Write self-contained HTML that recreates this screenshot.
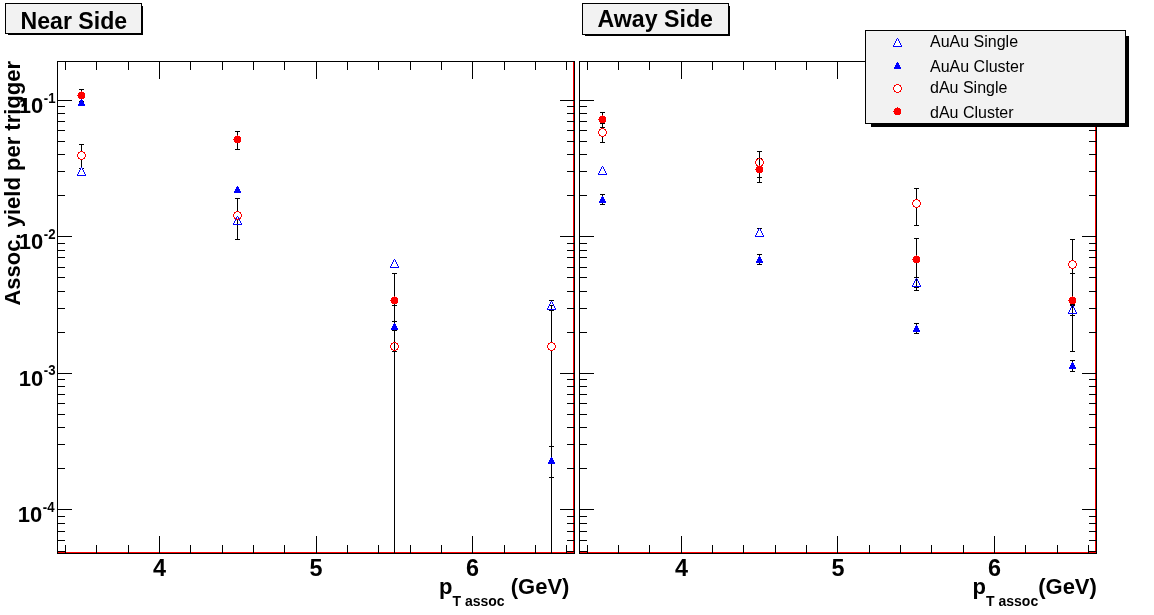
<!DOCTYPE html>
<html lang="en"><head><meta charset="utf-8"><title>Associated yield per trigger</title>
<style>html,body{margin:0;padding:0;background:#fff;}svg{display:block;}</style></head>
<body>
<svg width="1154" height="615" viewBox="0 0 1154 615" shape-rendering="crispEdges">
<rect x="0" y="0" width="1154" height="615" fill="#fff"/>
<rect x="57" y="61" width="518" height="1" fill="#000"/>
<rect x="57" y="553" width="518" height="1" fill="#000"/>
<rect x="57" y="61" width="1" height="493" fill="#000"/>
<rect x="574" y="61" width="1" height="493" fill="#000"/>
<rect x="58" y="552" width="516" height="1" fill="#ff0000"/>
<rect x="573" y="62" width="1" height="491" fill="#ff0000"/>
<rect x="65" y="545" width="1" height="9" fill="#000"/>
<rect x="65" y="61" width="1" height="9" fill="#000"/>
<rect x="96" y="545" width="1" height="9" fill="#000"/>
<rect x="96" y="61" width="1" height="9" fill="#000"/>
<rect x="128" y="545" width="1" height="9" fill="#000"/>
<rect x="128" y="61" width="1" height="9" fill="#000"/>
<rect x="159" y="536" width="1" height="18" fill="#000"/>
<rect x="159" y="61" width="1" height="18" fill="#000"/>
<rect x="190" y="545" width="1" height="9" fill="#000"/>
<rect x="190" y="61" width="1" height="9" fill="#000"/>
<rect x="222" y="545" width="1" height="9" fill="#000"/>
<rect x="222" y="61" width="1" height="9" fill="#000"/>
<rect x="253" y="545" width="1" height="9" fill="#000"/>
<rect x="253" y="61" width="1" height="9" fill="#000"/>
<rect x="284" y="545" width="1" height="9" fill="#000"/>
<rect x="284" y="61" width="1" height="9" fill="#000"/>
<rect x="316" y="536" width="1" height="18" fill="#000"/>
<rect x="316" y="61" width="1" height="18" fill="#000"/>
<rect x="347" y="545" width="1" height="9" fill="#000"/>
<rect x="347" y="61" width="1" height="9" fill="#000"/>
<rect x="378" y="545" width="1" height="9" fill="#000"/>
<rect x="378" y="61" width="1" height="9" fill="#000"/>
<rect x="410" y="545" width="1" height="9" fill="#000"/>
<rect x="410" y="61" width="1" height="9" fill="#000"/>
<rect x="441" y="545" width="1" height="9" fill="#000"/>
<rect x="441" y="61" width="1" height="9" fill="#000"/>
<rect x="472" y="536" width="1" height="18" fill="#000"/>
<rect x="472" y="61" width="1" height="18" fill="#000"/>
<rect x="504" y="545" width="1" height="9" fill="#000"/>
<rect x="504" y="61" width="1" height="9" fill="#000"/>
<rect x="535" y="545" width="1" height="9" fill="#000"/>
<rect x="535" y="61" width="1" height="9" fill="#000"/>
<rect x="566" y="545" width="1" height="9" fill="#000"/>
<rect x="566" y="61" width="1" height="9" fill="#000"/>
<rect x="58" y="551" width="7" height="1" fill="#000"/>
<rect x="567" y="551" width="7" height="1" fill="#000"/>
<rect x="58" y="540" width="7" height="1" fill="#000"/>
<rect x="567" y="540" width="7" height="1" fill="#000"/>
<rect x="58" y="531" width="7" height="1" fill="#000"/>
<rect x="567" y="531" width="7" height="1" fill="#000"/>
<rect x="58" y="523" width="7" height="1" fill="#000"/>
<rect x="567" y="523" width="7" height="1" fill="#000"/>
<rect x="58" y="516" width="7" height="1" fill="#000"/>
<rect x="567" y="516" width="7" height="1" fill="#000"/>
<rect x="58" y="509" width="14" height="1" fill="#000"/>
<rect x="560" y="509" width="14" height="1" fill="#000"/>
<rect x="58" y="468" width="7" height="1" fill="#000"/>
<rect x="567" y="468" width="7" height="1" fill="#000"/>
<rect x="58" y="444" width="7" height="1" fill="#000"/>
<rect x="567" y="444" width="7" height="1" fill="#000"/>
<rect x="58" y="427" width="7" height="1" fill="#000"/>
<rect x="567" y="427" width="7" height="1" fill="#000"/>
<rect x="58" y="414" width="7" height="1" fill="#000"/>
<rect x="567" y="414" width="7" height="1" fill="#000"/>
<rect x="58" y="403" width="7" height="1" fill="#000"/>
<rect x="567" y="403" width="7" height="1" fill="#000"/>
<rect x="58" y="394" width="7" height="1" fill="#000"/>
<rect x="567" y="394" width="7" height="1" fill="#000"/>
<rect x="58" y="386" width="7" height="1" fill="#000"/>
<rect x="567" y="386" width="7" height="1" fill="#000"/>
<rect x="58" y="379" width="7" height="1" fill="#000"/>
<rect x="567" y="379" width="7" height="1" fill="#000"/>
<rect x="58" y="373" width="14" height="1" fill="#000"/>
<rect x="560" y="373" width="14" height="1" fill="#000"/>
<rect x="58" y="332" width="7" height="1" fill="#000"/>
<rect x="567" y="332" width="7" height="1" fill="#000"/>
<rect x="58" y="308" width="7" height="1" fill="#000"/>
<rect x="567" y="308" width="7" height="1" fill="#000"/>
<rect x="58" y="291" width="7" height="1" fill="#000"/>
<rect x="567" y="291" width="7" height="1" fill="#000"/>
<rect x="58" y="277" width="7" height="1" fill="#000"/>
<rect x="567" y="277" width="7" height="1" fill="#000"/>
<rect x="58" y="267" width="7" height="1" fill="#000"/>
<rect x="567" y="267" width="7" height="1" fill="#000"/>
<rect x="58" y="257" width="7" height="1" fill="#000"/>
<rect x="567" y="257" width="7" height="1" fill="#000"/>
<rect x="58" y="250" width="7" height="1" fill="#000"/>
<rect x="567" y="250" width="7" height="1" fill="#000"/>
<rect x="58" y="243" width="7" height="1" fill="#000"/>
<rect x="567" y="243" width="7" height="1" fill="#000"/>
<rect x="58" y="236" width="14" height="1" fill="#000"/>
<rect x="560" y="236" width="14" height="1" fill="#000"/>
<rect x="58" y="195" width="7" height="1" fill="#000"/>
<rect x="567" y="195" width="7" height="1" fill="#000"/>
<rect x="58" y="171" width="7" height="1" fill="#000"/>
<rect x="567" y="171" width="7" height="1" fill="#000"/>
<rect x="58" y="154" width="7" height="1" fill="#000"/>
<rect x="567" y="154" width="7" height="1" fill="#000"/>
<rect x="58" y="141" width="7" height="1" fill="#000"/>
<rect x="567" y="141" width="7" height="1" fill="#000"/>
<rect x="58" y="130" width="7" height="1" fill="#000"/>
<rect x="567" y="130" width="7" height="1" fill="#000"/>
<rect x="58" y="121" width="7" height="1" fill="#000"/>
<rect x="567" y="121" width="7" height="1" fill="#000"/>
<rect x="58" y="113" width="7" height="1" fill="#000"/>
<rect x="567" y="113" width="7" height="1" fill="#000"/>
<rect x="58" y="106" width="7" height="1" fill="#000"/>
<rect x="567" y="106" width="7" height="1" fill="#000"/>
<rect x="58" y="100" width="14" height="1" fill="#000"/>
<rect x="560" y="100" width="14" height="1" fill="#000"/>
<rect x="579" y="61" width="518" height="1" fill="#000"/>
<rect x="579" y="553" width="518" height="1" fill="#000"/>
<rect x="579" y="61" width="1" height="493" fill="#000"/>
<rect x="1096" y="61" width="1" height="493" fill="#000"/>
<rect x="580" y="552" width="516" height="1" fill="#ff0000"/>
<rect x="1095" y="62" width="1" height="491" fill="#ff0000"/>
<rect x="587" y="545" width="1" height="9" fill="#000"/>
<rect x="587" y="61" width="1" height="9" fill="#000"/>
<rect x="618" y="545" width="1" height="9" fill="#000"/>
<rect x="618" y="61" width="1" height="9" fill="#000"/>
<rect x="649" y="545" width="1" height="9" fill="#000"/>
<rect x="649" y="61" width="1" height="9" fill="#000"/>
<rect x="681" y="536" width="1" height="18" fill="#000"/>
<rect x="681" y="61" width="1" height="18" fill="#000"/>
<rect x="712" y="545" width="1" height="9" fill="#000"/>
<rect x="712" y="61" width="1" height="9" fill="#000"/>
<rect x="743" y="545" width="1" height="9" fill="#000"/>
<rect x="743" y="61" width="1" height="9" fill="#000"/>
<rect x="775" y="545" width="1" height="9" fill="#000"/>
<rect x="775" y="61" width="1" height="9" fill="#000"/>
<rect x="806" y="545" width="1" height="9" fill="#000"/>
<rect x="806" y="61" width="1" height="9" fill="#000"/>
<rect x="837" y="536" width="1" height="18" fill="#000"/>
<rect x="837" y="61" width="1" height="18" fill="#000"/>
<rect x="869" y="545" width="1" height="9" fill="#000"/>
<rect x="869" y="61" width="1" height="9" fill="#000"/>
<rect x="900" y="545" width="1" height="9" fill="#000"/>
<rect x="900" y="61" width="1" height="9" fill="#000"/>
<rect x="931" y="545" width="1" height="9" fill="#000"/>
<rect x="931" y="61" width="1" height="9" fill="#000"/>
<rect x="963" y="545" width="1" height="9" fill="#000"/>
<rect x="963" y="61" width="1" height="9" fill="#000"/>
<rect x="994" y="536" width="1" height="18" fill="#000"/>
<rect x="994" y="61" width="1" height="18" fill="#000"/>
<rect x="1025" y="545" width="1" height="9" fill="#000"/>
<rect x="1025" y="61" width="1" height="9" fill="#000"/>
<rect x="1057" y="545" width="1" height="9" fill="#000"/>
<rect x="1057" y="61" width="1" height="9" fill="#000"/>
<rect x="1088" y="545" width="1" height="9" fill="#000"/>
<rect x="1088" y="61" width="1" height="9" fill="#000"/>
<rect x="580" y="551" width="7" height="1" fill="#000"/>
<rect x="1089" y="551" width="7" height="1" fill="#000"/>
<rect x="580" y="540" width="7" height="1" fill="#000"/>
<rect x="1089" y="540" width="7" height="1" fill="#000"/>
<rect x="580" y="531" width="7" height="1" fill="#000"/>
<rect x="1089" y="531" width="7" height="1" fill="#000"/>
<rect x="580" y="523" width="7" height="1" fill="#000"/>
<rect x="1089" y="523" width="7" height="1" fill="#000"/>
<rect x="580" y="516" width="7" height="1" fill="#000"/>
<rect x="1089" y="516" width="7" height="1" fill="#000"/>
<rect x="580" y="509" width="14" height="1" fill="#000"/>
<rect x="1082" y="509" width="14" height="1" fill="#000"/>
<rect x="580" y="468" width="7" height="1" fill="#000"/>
<rect x="1089" y="468" width="7" height="1" fill="#000"/>
<rect x="580" y="444" width="7" height="1" fill="#000"/>
<rect x="1089" y="444" width="7" height="1" fill="#000"/>
<rect x="580" y="427" width="7" height="1" fill="#000"/>
<rect x="1089" y="427" width="7" height="1" fill="#000"/>
<rect x="580" y="414" width="7" height="1" fill="#000"/>
<rect x="1089" y="414" width="7" height="1" fill="#000"/>
<rect x="580" y="403" width="7" height="1" fill="#000"/>
<rect x="1089" y="403" width="7" height="1" fill="#000"/>
<rect x="580" y="394" width="7" height="1" fill="#000"/>
<rect x="1089" y="394" width="7" height="1" fill="#000"/>
<rect x="580" y="386" width="7" height="1" fill="#000"/>
<rect x="1089" y="386" width="7" height="1" fill="#000"/>
<rect x="580" y="379" width="7" height="1" fill="#000"/>
<rect x="1089" y="379" width="7" height="1" fill="#000"/>
<rect x="580" y="373" width="14" height="1" fill="#000"/>
<rect x="1082" y="373" width="14" height="1" fill="#000"/>
<rect x="580" y="332" width="7" height="1" fill="#000"/>
<rect x="1089" y="332" width="7" height="1" fill="#000"/>
<rect x="580" y="308" width="7" height="1" fill="#000"/>
<rect x="1089" y="308" width="7" height="1" fill="#000"/>
<rect x="580" y="291" width="7" height="1" fill="#000"/>
<rect x="1089" y="291" width="7" height="1" fill="#000"/>
<rect x="580" y="277" width="7" height="1" fill="#000"/>
<rect x="1089" y="277" width="7" height="1" fill="#000"/>
<rect x="580" y="267" width="7" height="1" fill="#000"/>
<rect x="1089" y="267" width="7" height="1" fill="#000"/>
<rect x="580" y="257" width="7" height="1" fill="#000"/>
<rect x="1089" y="257" width="7" height="1" fill="#000"/>
<rect x="580" y="250" width="7" height="1" fill="#000"/>
<rect x="1089" y="250" width="7" height="1" fill="#000"/>
<rect x="580" y="243" width="7" height="1" fill="#000"/>
<rect x="1089" y="243" width="7" height="1" fill="#000"/>
<rect x="580" y="236" width="14" height="1" fill="#000"/>
<rect x="1082" y="236" width="14" height="1" fill="#000"/>
<rect x="580" y="195" width="7" height="1" fill="#000"/>
<rect x="1089" y="195" width="7" height="1" fill="#000"/>
<rect x="580" y="171" width="7" height="1" fill="#000"/>
<rect x="1089" y="171" width="7" height="1" fill="#000"/>
<rect x="580" y="154" width="7" height="1" fill="#000"/>
<rect x="1089" y="154" width="7" height="1" fill="#000"/>
<rect x="580" y="141" width="7" height="1" fill="#000"/>
<rect x="1089" y="141" width="7" height="1" fill="#000"/>
<rect x="580" y="130" width="7" height="1" fill="#000"/>
<rect x="1089" y="130" width="7" height="1" fill="#000"/>
<rect x="580" y="121" width="7" height="1" fill="#000"/>
<rect x="1089" y="121" width="7" height="1" fill="#000"/>
<rect x="580" y="113" width="7" height="1" fill="#000"/>
<rect x="1089" y="113" width="7" height="1" fill="#000"/>
<rect x="580" y="106" width="7" height="1" fill="#000"/>
<rect x="1089" y="106" width="7" height="1" fill="#000"/>
<rect x="580" y="100" width="14" height="1" fill="#000"/>
<rect x="1082" y="100" width="14" height="1" fill="#000"/>
<rect x="79" y="89" width="5" height="1" fill="#000"/>
<rect x="79" y="101" width="5" height="1" fill="#000"/>
<rect x="81" y="89" width="1" height="13" fill="#000"/>
<path d="M81 99h1v1h-1zM80 100h3v1h-3zM80 101h3v1h-3zM79 102h5v1h-5zM79 103h5v1h-5zM78 104h7v1h-7zM78 105h7v1h-7z" fill="#0000ff"/>
<path d="M79 92h5v1h-5zM78 93h7v1h-7zM78 94h7v1h-7zM78 95h7v1h-7zM78 96h7v1h-7zM78 97h7v1h-7zM79 98h5v1h-5zM77 95h1v1h-1zM81 91h1v1h-1z" fill="#ff0000"/>
<rect x="79" y="144" width="5" height="1" fill="#000"/>
<rect x="79" y="168" width="5" height="1" fill="#000"/>
<rect x="81" y="144" width="1" height="8" fill="#000"/>
<rect x="81" y="160" width="1" height="9" fill="#000"/>
<path d="M80 151h3v1h-3zM80 159h3v1h-3zM78 152h2v1h-2zM83 152h2v1h-2zM78 153h1v1h-1zM84 153h1v1h-1zM78 158h2v1h-2zM83 158h2v1h-2zM78 157h1v1h-1zM84 157h1v1h-1zM77 154h1v1h-1zM85 154h1v1h-1zM77 155h1v1h-1zM85 155h1v1h-1zM77 156h1v1h-1zM85 156h1v1h-1z" fill="#ff0000"/>
<path d="M81 168h1v1h-1zM81 169h1v1h-1zM80 170h3v1h-3zM80 171h3v1h-3zM79 172h5v1h-5zM79 173h5v1h-5zM78 174h7v1h-7z" fill="#fff"/>
<path d="M81 167h1v1h-1zM80 168h1v1h-1zM82 168h1v1h-1zM80 169h1v1h-1zM82 169h1v1h-1zM79 170h1v1h-1zM83 170h1v1h-1zM79 171h1v1h-1zM83 171h1v1h-1zM78 172h1v1h-1zM84 172h1v1h-1zM78 173h1v1h-1zM84 173h1v1h-1zM77 174h1v1h-1zM85 174h1v1h-1zM77 175h9v1h-9z" fill="#0000ff"/>
<rect x="235" y="131" width="5" height="1" fill="#000"/>
<rect x="235" y="149" width="5" height="1" fill="#000"/>
<rect x="237" y="131" width="1" height="19" fill="#000"/>
<path d="M235 136h5v1h-5zM234 137h7v1h-7zM234 138h7v1h-7zM234 139h7v1h-7zM234 140h7v1h-7zM234 141h7v1h-7zM235 142h5v1h-5zM233 139h1v1h-1zM237 135h1v1h-1z" fill="#ff0000"/>
<path d="M237 186h1v1h-1zM236 187h3v1h-3zM236 188h3v1h-3zM235 189h5v1h-5zM235 190h5v1h-5zM234 191h7v1h-7zM234 192h7v1h-7z" fill="#0000ff"/>
<rect x="235" y="198" width="5" height="1" fill="#000"/>
<rect x="235" y="239" width="5" height="1" fill="#000"/>
<rect x="237" y="198" width="1" height="14" fill="#000"/>
<rect x="237" y="220" width="1" height="20" fill="#000"/>
<path d="M237 216h1v1h-1zM236 217h1v1h-1zM238 217h1v1h-1zM236 218h1v1h-1zM238 218h1v1h-1zM235 219h1v1h-1zM239 219h1v1h-1zM235 220h1v1h-1zM239 220h1v1h-1zM234 221h1v1h-1zM240 221h1v1h-1zM234 222h1v1h-1zM240 222h1v1h-1zM233 223h1v1h-1zM241 223h1v1h-1zM233 224h9v1h-9z" fill="#0000ff"/>
<path d="M236 211h3v1h-3zM236 219h3v1h-3zM234 212h2v1h-2zM239 212h2v1h-2zM234 213h1v1h-1zM240 213h1v1h-1zM234 218h2v1h-2zM239 218h2v1h-2zM234 217h1v1h-1zM240 217h1v1h-1zM233 214h1v1h-1zM241 214h1v1h-1zM233 215h1v1h-1zM241 215h1v1h-1zM233 216h1v1h-1zM241 216h1v1h-1z" fill="#ff0000"/>
<path d="M394 259h1v1h-1zM393 260h1v1h-1zM395 260h1v1h-1zM393 261h1v1h-1zM395 261h1v1h-1zM392 262h1v1h-1zM396 262h1v1h-1zM392 263h1v1h-1zM396 263h1v1h-1zM391 264h1v1h-1zM397 264h1v1h-1zM391 265h1v1h-1zM397 265h1v1h-1zM390 266h1v1h-1zM398 266h1v1h-1zM390 267h9v1h-9z" fill="#0000ff"/>
<rect x="394" y="273" width="1" height="280" fill="#000"/>
<rect x="392" y="273" width="5" height="1" fill="#000"/>
<rect x="392" y="305" width="5" height="1" fill="#000"/>
<rect x="392" y="321" width="5" height="1" fill="#000"/>
<rect x="392" y="330" width="5" height="1" fill="#000"/>
<rect x="392" y="351" width="5" height="1" fill="#000"/>
<path d="M392 297h5v1h-5zM391 298h7v1h-7zM391 299h7v1h-7zM391 300h7v1h-7zM391 301h7v1h-7zM391 302h7v1h-7zM392 303h5v1h-5zM390 300h1v1h-1zM394 296h1v1h-1z" fill="#ff0000"/>
<path d="M394 323h1v1h-1zM393 324h3v1h-3zM393 325h3v1h-3zM392 326h5v1h-5zM392 327h5v1h-5zM391 328h7v1h-7zM391 329h7v1h-7z" fill="#0000ff"/>
<path d="M393 342h3v1h-3zM393 350h3v1h-3zM391 343h2v1h-2zM396 343h2v1h-2zM391 344h1v1h-1zM397 344h1v1h-1zM391 349h2v1h-2zM396 349h2v1h-2zM391 348h1v1h-1zM397 348h1v1h-1zM390 345h1v1h-1zM398 345h1v1h-1zM390 346h1v1h-1zM398 346h1v1h-1zM390 347h1v1h-1zM398 347h1v1h-1z" fill="#ff0000"/>
<rect x="549" y="300" width="5" height="1" fill="#000"/>
<rect x="549" y="305" width="5" height="1" fill="#000"/>
<rect x="549" y="310" width="5" height="1" fill="#000"/>
<rect x="551" y="305" width="1" height="38" fill="#000"/>
<path d="M551 301h1v1h-1zM550 302h1v1h-1zM552 302h1v1h-1zM550 303h1v1h-1zM552 303h1v1h-1zM549 304h1v1h-1zM553 304h1v1h-1zM549 305h1v1h-1zM553 305h1v1h-1zM548 306h1v1h-1zM554 306h1v1h-1zM548 307h1v1h-1zM554 307h1v1h-1zM547 308h1v1h-1zM555 308h1v1h-1zM547 309h9v1h-9z" fill="#0000ff"/>
<path d="M550 342h3v1h-3zM550 350h3v1h-3zM548 343h2v1h-2zM553 343h2v1h-2zM548 344h1v1h-1zM554 344h1v1h-1zM548 349h2v1h-2zM553 349h2v1h-2zM548 348h1v1h-1zM554 348h1v1h-1zM547 345h1v1h-1zM555 345h1v1h-1zM547 346h1v1h-1zM555 346h1v1h-1zM547 347h1v1h-1zM555 347h1v1h-1z" fill="#ff0000"/>
<rect x="551" y="351" width="1" height="202" fill="#000"/>
<rect x="549" y="446" width="5" height="1" fill="#000"/>
<rect x="549" y="477" width="5" height="1" fill="#000"/>
<path d="M551 457h1v1h-1zM550 458h3v1h-3zM550 459h3v1h-3zM549 460h5v1h-5zM549 461h5v1h-5zM548 462h7v1h-7zM548 463h7v1h-7z" fill="#0000ff"/>
<rect x="600" y="112" width="5" height="1" fill="#000"/>
<rect x="600" y="123" width="5" height="1" fill="#000"/>
<rect x="600" y="127" width="5" height="1" fill="#000"/>
<rect x="600" y="142" width="5" height="1" fill="#000"/>
<rect x="602" y="112" width="1" height="5" fill="#000"/>
<rect x="602" y="123" width="1" height="6" fill="#000"/>
<rect x="602" y="137" width="1" height="6" fill="#000"/>
<path d="M600 116h5v1h-5zM599 117h7v1h-7zM599 118h7v1h-7zM599 119h7v1h-7zM599 120h7v1h-7zM599 121h7v1h-7zM600 122h5v1h-5zM598 119h1v1h-1zM602 115h1v1h-1z" fill="#ff0000"/>
<path d="M601 128h3v1h-3zM601 136h3v1h-3zM599 129h2v1h-2zM604 129h2v1h-2zM599 130h1v1h-1zM605 130h1v1h-1zM599 135h2v1h-2zM604 135h2v1h-2zM599 134h1v1h-1zM605 134h1v1h-1zM598 131h1v1h-1zM606 131h1v1h-1zM598 132h1v1h-1zM606 132h1v1h-1zM598 133h1v1h-1zM606 133h1v1h-1z" fill="#ff0000"/>
<path d="M602 166h1v1h-1zM601 167h1v1h-1zM603 167h1v1h-1zM601 168h1v1h-1zM603 168h1v1h-1zM600 169h1v1h-1zM604 169h1v1h-1zM600 170h1v1h-1zM604 170h1v1h-1zM599 171h1v1h-1zM605 171h1v1h-1zM599 172h1v1h-1zM605 172h1v1h-1zM598 173h1v1h-1zM606 173h1v1h-1zM598 174h9v1h-9z" fill="#0000ff"/>
<rect x="600" y="194" width="5" height="1" fill="#000"/>
<rect x="600" y="204" width="5" height="1" fill="#000"/>
<rect x="602" y="194" width="1" height="11" fill="#000"/>
<path d="M602 196h1v1h-1zM601 197h3v1h-3zM601 198h3v1h-3zM600 199h5v1h-5zM600 200h5v1h-5zM599 201h7v1h-7zM599 202h7v1h-7z" fill="#0000ff"/>
<rect x="757" y="151" width="5" height="1" fill="#000"/>
<rect x="757" y="158" width="5" height="1" fill="#000"/>
<rect x="757" y="177" width="5" height="1" fill="#000"/>
<rect x="757" y="182" width="5" height="1" fill="#000"/>
<rect x="759" y="151" width="1" height="32" fill="#000"/>
<path d="M758 158h3v1h-3zM758 166h3v1h-3zM756 159h2v1h-2zM761 159h2v1h-2zM756 160h1v1h-1zM762 160h1v1h-1zM756 165h2v1h-2zM761 165h2v1h-2zM756 164h1v1h-1zM762 164h1v1h-1zM755 161h1v1h-1zM763 161h1v1h-1zM755 162h1v1h-1zM763 162h1v1h-1zM755 163h1v1h-1zM763 163h1v1h-1z" fill="#ff0000"/>
<path d="M757 166h5v1h-5zM756 167h7v1h-7zM756 168h7v1h-7zM756 169h7v1h-7zM756 170h7v1h-7zM756 171h7v1h-7zM757 172h5v1h-5zM755 169h1v1h-1zM759 165h1v1h-1z" fill="#ff0000"/>
<rect x="757" y="228" width="5" height="1" fill="#000"/>
<path d="M759 228h1v1h-1zM758 229h1v1h-1zM760 229h1v1h-1zM758 230h1v1h-1zM760 230h1v1h-1zM757 231h1v1h-1zM761 231h1v1h-1zM757 232h1v1h-1zM761 232h1v1h-1zM756 233h1v1h-1zM762 233h1v1h-1zM756 234h1v1h-1zM762 234h1v1h-1zM755 235h1v1h-1zM763 235h1v1h-1zM755 236h9v1h-9z" fill="#0000ff"/>
<rect x="757" y="254" width="5" height="1" fill="#000"/>
<rect x="757" y="264" width="5" height="1" fill="#000"/>
<rect x="759" y="254" width="1" height="11" fill="#000"/>
<path d="M759 256h1v1h-1zM758 257h3v1h-3zM758 258h3v1h-3zM757 259h5v1h-5zM757 260h5v1h-5zM756 261h7v1h-7zM756 262h7v1h-7z" fill="#0000ff"/>
<rect x="914" y="188" width="5" height="1" fill="#000"/>
<rect x="914" y="225" width="5" height="1" fill="#000"/>
<rect x="916" y="188" width="1" height="12" fill="#000"/>
<rect x="916" y="208" width="1" height="18" fill="#000"/>
<path d="M915 199h3v1h-3zM915 207h3v1h-3zM913 200h2v1h-2zM918 200h2v1h-2zM913 201h1v1h-1zM919 201h1v1h-1zM913 206h2v1h-2zM918 206h2v1h-2zM913 205h1v1h-1zM919 205h1v1h-1zM912 202h1v1h-1zM920 202h1v1h-1zM912 203h1v1h-1zM920 203h1v1h-1zM912 204h1v1h-1zM920 204h1v1h-1z" fill="#ff0000"/>
<rect x="916" y="238" width="1" height="53" fill="#000"/>
<rect x="914" y="238" width="5" height="1" fill="#000"/>
<rect x="914" y="277" width="5" height="1" fill="#000"/>
<rect x="914" y="287" width="5" height="1" fill="#000"/>
<rect x="914" y="290" width="5" height="1" fill="#000"/>
<path d="M914 256h5v1h-5zM913 257h7v1h-7zM913 258h7v1h-7zM913 259h7v1h-7zM913 260h7v1h-7zM913 261h7v1h-7zM914 262h5v1h-5zM912 259h1v1h-1zM916 255h1v1h-1z" fill="#ff0000"/>
<path d="M916 278h1v1h-1zM915 279h1v1h-1zM917 279h1v1h-1zM915 280h1v1h-1zM917 280h1v1h-1zM914 281h1v1h-1zM918 281h1v1h-1zM914 282h1v1h-1zM918 282h1v1h-1zM913 283h1v1h-1zM919 283h1v1h-1zM913 284h1v1h-1zM919 284h1v1h-1zM912 285h1v1h-1zM920 285h1v1h-1zM912 286h9v1h-9z" fill="#0000ff"/>
<rect x="914" y="323" width="5" height="1" fill="#000"/>
<rect x="914" y="333" width="5" height="1" fill="#000"/>
<rect x="916" y="323" width="1" height="11" fill="#000"/>
<path d="M916 325h1v1h-1zM915 326h3v1h-3zM915 327h3v1h-3zM914 328h5v1h-5zM914 329h5v1h-5zM913 330h7v1h-7zM913 331h7v1h-7z" fill="#0000ff"/>
<rect x="1070" y="239" width="5" height="1" fill="#000"/>
<rect x="1072" y="239" width="1" height="22" fill="#000"/>
<rect x="1072" y="269" width="1" height="83" fill="#000"/>
<rect x="1070" y="273" width="5" height="1" fill="#000"/>
<rect x="1070" y="304" width="5" height="1" fill="#000"/>
<rect x="1070" y="305" width="5" height="1" fill="#000"/>
<rect x="1070" y="315" width="5" height="1" fill="#000"/>
<rect x="1070" y="351" width="5" height="1" fill="#000"/>
<path d="M1071 260h3v1h-3zM1071 268h3v1h-3zM1069 261h2v1h-2zM1074 261h2v1h-2zM1069 262h1v1h-1zM1075 262h1v1h-1zM1069 267h2v1h-2zM1074 267h2v1h-2zM1069 266h1v1h-1zM1075 266h1v1h-1zM1068 263h1v1h-1zM1076 263h1v1h-1zM1068 264h1v1h-1zM1076 264h1v1h-1zM1068 265h1v1h-1zM1076 265h1v1h-1z" fill="#ff0000"/>
<path d="M1072 305h1v1h-1zM1071 306h1v1h-1zM1073 306h1v1h-1zM1071 307h1v1h-1zM1073 307h1v1h-1zM1070 308h1v1h-1zM1074 308h1v1h-1zM1070 309h1v1h-1zM1074 309h1v1h-1zM1069 310h1v1h-1zM1075 310h1v1h-1zM1069 311h1v1h-1zM1075 311h1v1h-1zM1068 312h1v1h-1zM1076 312h1v1h-1zM1068 313h9v1h-9z" fill="#0000ff"/>
<path d="M1070 297h5v1h-5zM1069 298h7v1h-7zM1069 299h7v1h-7zM1069 300h7v1h-7zM1069 301h7v1h-7zM1069 302h7v1h-7zM1070 303h5v1h-5zM1068 300h1v1h-1zM1072 296h1v1h-1z" fill="#ff0000"/>
<rect x="1070" y="360" width="5" height="1" fill="#000"/>
<rect x="1070" y="371" width="5" height="1" fill="#000"/>
<rect x="1072" y="360" width="1" height="12" fill="#000"/>
<path d="M1072 362h1v1h-1zM1071 363h3v1h-3zM1071 364h3v1h-3zM1070 365h5v1h-5zM1070 366h5v1h-5zM1069 367h7v1h-7zM1069 368h7v1h-7z" fill="#0000ff"/>
<rect x="8" y="34" width="135" height="1" fill="#000"/>
<rect x="142" y="6" width="1" height="29" fill="#000"/>
<rect x="5" y="3" width="137" height="31" fill="#000"/>
<rect x="6" y="4" width="135" height="29" fill="#f2f2f2"/>
<rect x="585" y="35" width="145" height="1" fill="#000"/>
<rect x="729" y="6" width="1" height="30" fill="#000"/>
<rect x="582" y="3" width="147" height="32" fill="#000"/>
<rect x="583" y="4" width="145" height="30" fill="#f2f2f2"/>
<text x="20.6" y="29" font-family="Liberation Sans, Arial, Helvetica, sans-serif" font-weight="bold" font-size="23.1">Near Side</text>
<text x="597.4" y="27" font-family="Liberation Sans, Arial, Helvetica, sans-serif" font-weight="bold" font-size="23.2">Away Side</text>
<rect x="871" y="124" width="258" height="3" fill="#000"/>
<rect x="1126" y="36" width="3" height="91" fill="#000"/>
<rect x="865" y="30" width="261" height="94" fill="#000"/>
<rect x="866" y="31" width="259" height="92" fill="#f2f2f2"/>
<path d="M897 39h1v1h-1zM897 40h1v1h-1zM896 41h3v1h-3zM896 42h3v1h-3zM895 43h5v1h-5zM895 44h5v1h-5zM894 45h7v1h-7z" fill="#fff"/>
<path d="M897 38h1v1h-1zM896 39h1v1h-1zM898 39h1v1h-1zM896 40h1v1h-1zM898 40h1v1h-1zM895 41h1v1h-1zM899 41h1v1h-1zM895 42h1v1h-1zM899 42h1v1h-1zM894 43h1v1h-1zM900 43h1v1h-1zM894 44h1v1h-1zM900 44h1v1h-1zM893 45h1v1h-1zM901 45h1v1h-1zM893 46h9v1h-9z" fill="#0000ff"/>
<path d="M897 62h1v1h-1zM896 63h3v1h-3zM896 64h3v1h-3zM895 65h5v1h-5zM895 66h5v1h-5zM894 67h7v1h-7zM894 68h7v1h-7z" fill="#0000ff"/>
<path d="M896 85h3v1h-3zM895 86h5v1h-5zM894 87h7v1h-7zM894 88h7v1h-7zM894 89h7v1h-7zM895 90h5v1h-5zM896 91h3v1h-3z" fill="#fff"/>
<path d="M896 84h3v1h-3zM896 92h3v1h-3zM894 85h2v1h-2zM899 85h2v1h-2zM894 86h1v1h-1zM900 86h1v1h-1zM894 91h2v1h-2zM899 91h2v1h-2zM894 90h1v1h-1zM900 90h1v1h-1zM893 87h1v1h-1zM901 87h1v1h-1zM893 88h1v1h-1zM901 88h1v1h-1zM893 89h1v1h-1zM901 89h1v1h-1z" fill="#ff0000"/>
<path d="M895 108h5v1h-5zM894 109h7v1h-7zM894 110h7v1h-7zM894 111h7v1h-7zM894 112h7v1h-7zM894 113h7v1h-7zM895 114h5v1h-5zM893 111h1v1h-1zM897 107h1v1h-1z" fill="#ff0000"/>
<text x="930" y="47" font-family="Liberation Sans, Arial, Helvetica, sans-serif" font-size="16">AuAu Single</text>
<text x="930" y="72" font-family="Liberation Sans, Arial, Helvetica, sans-serif" font-size="16">AuAu Cluster</text>
<text x="930" y="93" font-family="Liberation Sans, Arial, Helvetica, sans-serif" font-size="16">dAu Single</text>
<text x="930" y="118" font-family="Liberation Sans, Arial, Helvetica, sans-serif" font-size="16">dAu Cluster</text>
<text x="43.3" y="113" font-family="Liberation Sans, Arial, Helvetica, sans-serif" font-weight="bold" font-size="22" text-anchor="end">10</text>
<text transform="translate(43.8 103) scale(1 1.06)" font-family="Liberation Sans, Arial, Helvetica, sans-serif" font-weight="bold" font-size="13.2">-1</text>
<text x="43.3" y="249" font-family="Liberation Sans, Arial, Helvetica, sans-serif" font-weight="bold" font-size="22" text-anchor="end">10</text>
<text transform="translate(43.8 239) scale(1 1.06)" font-family="Liberation Sans, Arial, Helvetica, sans-serif" font-weight="bold" font-size="13.2">-2</text>
<text x="43.3" y="386" font-family="Liberation Sans, Arial, Helvetica, sans-serif" font-weight="bold" font-size="22" text-anchor="end">10</text>
<text transform="translate(43.8 375) scale(1 1.06)" font-family="Liberation Sans, Arial, Helvetica, sans-serif" font-weight="bold" font-size="13.2">-3</text>
<text x="42.3" y="522" font-family="Liberation Sans, Arial, Helvetica, sans-serif" font-weight="bold" font-size="22" text-anchor="end">10</text>
<text transform="translate(42.8 512) scale(1 1.06)" font-family="Liberation Sans, Arial, Helvetica, sans-serif" font-weight="bold" font-size="13.2">-4</text>
<text x="159.5" y="576" font-family="Liberation Sans, Arial, Helvetica, sans-serif" font-weight="bold" font-size="23.4" text-anchor="middle">4</text>
<text x="316.0" y="576" font-family="Liberation Sans, Arial, Helvetica, sans-serif" font-weight="bold" font-size="23.4" text-anchor="middle">5</text>
<text x="472.5" y="576" font-family="Liberation Sans, Arial, Helvetica, sans-serif" font-weight="bold" font-size="23.4" text-anchor="middle">6</text>
<text x="681.5" y="576" font-family="Liberation Sans, Arial, Helvetica, sans-serif" font-weight="bold" font-size="23.4" text-anchor="middle">4</text>
<text x="838.0" y="576" font-family="Liberation Sans, Arial, Helvetica, sans-serif" font-weight="bold" font-size="23.4" text-anchor="middle">5</text>
<text x="994.5" y="576" font-family="Liberation Sans, Arial, Helvetica, sans-serif" font-weight="bold" font-size="23.4" text-anchor="middle">6</text>
<text transform="translate(20.4 61) rotate(-90)" font-family="Liberation Sans, Arial, Helvetica, sans-serif" font-weight="bold" font-size="22" text-anchor="end">Assoc. yield per trigger</text>
<text x="439" y="594" font-family="Liberation Sans, Arial, Helvetica, sans-serif" font-weight="bold" font-size="22">p<tspan font-size="14" dy="12">T assoc</tspan><tspan dy="-12"> (GeV)</tspan></text>
<text x="972.6" y="594" font-family="Liberation Sans, Arial, Helvetica, sans-serif" font-weight="bold" font-size="22">p<tspan font-size="14" dy="12">T assoc</tspan><tspan dy="-12">(GeV)</tspan></text>
</svg>
</body></html>
